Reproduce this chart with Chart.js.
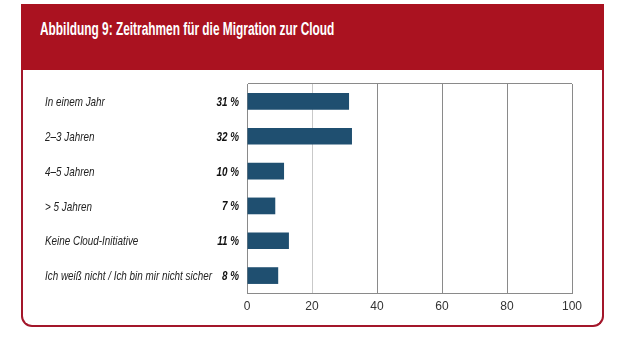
<!DOCTYPE html>
<html lang="de">
<head>
<meta charset="utf-8">
<script src="https://cdn.jsdelivr.net/npm/chart.js@4.4.1/dist/chart.umd.min.js"></script>
<style>
  html, body { margin: 0; padding: 0; background: #fff; }
  body { width: 635px; height: 343px; position: relative; overflow: hidden; }
  #head {
    position: absolute; left: 21px; top: 4px; width: 583px; height: 66px;
    background: #aa1220;
  }
  #head h1 {
    margin: 0; position: absolute; left: 19px; top: 15px;
    font: bold 18px "Liberation Sans", Arial, sans-serif;
    color: #fff; white-space: nowrap;
    transform: scaleX(0.66); transform-origin: 0 0;
  }
  #box {
    position: absolute; left: 21px; top: 70px; width: 579px; height: 255px;
    border: 2px solid #a3162a; border-top: none;
    border-radius: 0 0 11px 11px;
  }
  #wrap { position: absolute; left: 0; top: 0; width: 635px; height: 343px; }
</style>
</head>
<body>
<div id="head"><h1>Abbildung 9: Zeitrahmen für die Migration zur Cloud</h1></div>
<div id="box"></div>
<div id="wrap"><canvas id="chart"></canvas></div>
<script>
// Kategorien und Werte
const categories = [
  'In einem Jahr',
  '2–3 Jahren',
  '4–5 Jahren',
  '> 5 Jahren',
  'Keine Cloud-Initiative',
  'Ich weiß nicht / Ich bin mir nicht sicher'
];
const percentLabels = ['31 %', '32 %', '10 %', '7 %', '11 %', '8 %'];
// Balkenlängen
const barValues = [31.4, 32.3, 11.4, 8.7, 12.9, 9.6];
const xTicks = [0, 20, 40, 60, 80, 100];

const axisGray = '#8a8a8a';
const narrow = 0.76; // schmale Schrift nachbilden

// Beschriftungen links: Kategorie linksbündig, Prozentwert fett rechtsbündig
const sideLabels = {
  id: 'sideLabels',
  afterDraw(chart) {
    const { ctx } = chart;
    const y = chart.scales.y;
    ctx.save();
    ctx.textBaseline = 'middle';
    categories.forEach((cat, i) => {
      const py = y.getPixelForValue(i) + 1;
      ctx.save();
      ctx.translate(y.left, py);
      ctx.scale(narrow, 1);
      ctx.font = 'italic 13px "Liberation Sans", Arial, sans-serif';
      ctx.fillStyle = '#222';
      ctx.textAlign = 'left';
      ctx.fillText(cat, 0, 0);
      ctx.restore();

      ctx.save();
      ctx.translate(y.right - 8, py);
      ctx.scale(narrow, 1);
      ctx.font = 'italic bold 13px "Liberation Sans", Arial, sans-serif';
      ctx.fillStyle = '#111';
      ctx.textAlign = 'right';
      ctx.fillText(percentLabels[i], 0, 0);
      ctx.restore();
    });
    ctx.restore();
  }
};

new Chart(document.getElementById('chart'), {
  type: 'bar',
  data: {
    labels: categories,
    datasets: [{
      data: barValues,
      backgroundColor: '#1f4f70',
      barPercentage: 0.48,
      categoryPercentage: 1
    }]
  },
  options: {
    indexAxis: 'y',
    responsive: true,
    maintainAspectRatio: false,
    animation: false,
    events: [],
    layout: { padding: { left: 45, right: 63, top: 84, bottom: 28 } },
    plugins: { legend: { display: false }, tooltip: { enabled: false } },
    scales: {
      x: {
        min: 0,
        max: 100,
        afterBuildTicks: (scale) => { scale.ticks = xTicks.map(v => ({ value: v })); },
        grid: {
          drawTicks: false,
          color: (c) => (c.tick && c.tick.value === 20) ? '#c9c9c9' : axisGray,
          lineWidth: 1
        },
        border: { display: true, color: axisGray },
        ticks: {
          padding: 6,
          color: '#333',
          font: { family: '"Liberation Sans", Arial, sans-serif', size: 12 }
        },
        afterFit: (scale) => { scale.height = 22; }
      },
      y: {
        offset: true,
        grid: {
          offset: true,
          drawTicks: false,
          color: (c) => c.index === 0 ? axisGray : 'rgba(0,0,0,0)'
        },
        border: { display: true, color: axisGray },
        ticks: { display: false },
        afterFit: (scale) => { scale.width = 202; }
      }
    }
  },
  plugins: [sideLabels]
});
</script>
</body>
</html>
